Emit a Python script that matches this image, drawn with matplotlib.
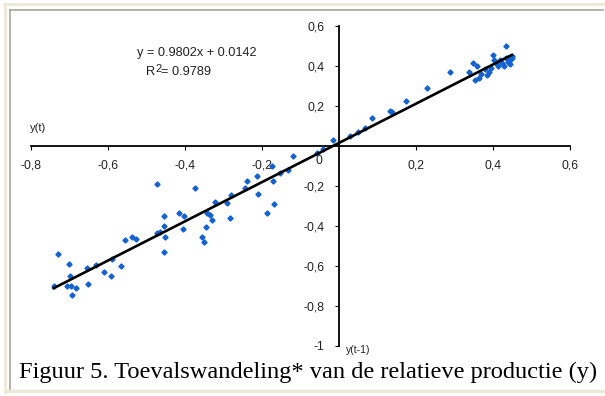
import matplotlib
matplotlib.use("Agg")
import matplotlib.pyplot as plt
from matplotlib.lines import Line2D

# data: y(t-1) on x, y(t) on y
x_vals = [-0.739, -0.728, -0.699, -0.697, -0.704, -0.696, -0.682, -0.691, -0.650, -0.654,
          -0.630, -0.609, -0.592, -0.589, -0.565, -0.555, -0.537, -0.526, -0.472, -0.472,
          -0.464, -0.453, -0.453, -0.451, -0.453, -0.413, -0.401, -0.405, -0.373, -0.355,
          -0.349, -0.345, -0.342, -0.334, -0.329, -0.321, -0.290, -0.282, -0.279, -0.243,
          -0.237, -0.211, -0.208, -0.186, -0.171, -0.168, -0.152, -0.131, -0.117, -0.173,
          -0.057, -0.039, -0.013, 0.030, 0.050, 0.069, 0.087, 0.135, 0.138, 0.175,
          0.230, 0.290, 0.340, 0.350, 0.360, 0.365, 0.370, 0.380, 0.385, 0.395,
          0.400, 0.405, 0.410, 0.415, 0.425, 0.435, 0.435, 0.445, 0.450, 0.445,
          0.430, 0.420, 0.390, 0.355, 0.440, 0.450]
y_vals = [-0.700, -0.540, -0.590, -0.650, -0.700, -0.700, -0.710, -0.745, -0.690, -0.610,
          -0.595, -0.630, -0.650, -0.565, -0.600, -0.470, -0.455, -0.465, -0.190, -0.435,
          -0.430, -0.350, -0.400, -0.455, -0.530, -0.335, -0.350, -0.415, -0.210, -0.455,
          -0.480, -0.405, -0.335, -0.345, -0.370, -0.280, -0.285, -0.360, -0.245, -0.210,
          -0.175, -0.150, -0.240, -0.335, -0.175, -0.290, -0.135, -0.120, -0.050, -0.100,
          -0.033, -0.016, 0.030, 0.050, 0.070, 0.090, 0.140, 0.175, 0.170, 0.225,
          0.290, 0.370, 0.370, 0.415, 0.400, 0.340, 0.360, 0.385, 0.355, 0.390,
          0.455, 0.430, 0.415, 0.400, 0.415, 0.440, 0.500, 0.430, 0.450, 0.410,
          0.400, 0.430, 0.370, 0.330, 0.420, 0.440]

slope = 0.9802
intercept = 0.0142
r2 = 0.9789
fit_x = [-0.74, 0.45]

x_ticks = [-0.8, -0.6, -0.4, -0.2, 0.2, 0.4, 0.6]
x_labels = ["-0,8", "-0,6", "-0,4", "-0,2", "0,2", "0,4", "0,6"]
y_ticks = [-1, -0.8, -0.6, -0.4, -0.2, 0.2, 0.4, 0.6]
y_labels = ["-1", "-0,8", "-0,6", "-0,4", "-0,2", "0,2", "0,4", "0,6"]

caption = "Figuur 5. Toevalswandeling* van de relatieve productie (y)"

W, H = 605, 396
fig = plt.figure(figsize=(W / 100, H / 100), dpi=100)
fig.patch.set_facecolor("white")

ax = fig.add_axes([30.5 / W, 50 / H, 539 / W, 320 / H])
ax.set_xlim(-0.8, 0.6)
ax.set_ylim(-1, 0.6)
ax.patch.set_alpha(0)
for s in ["top", "right"]:
    ax.spines[s].set_visible(False)
ax.spines["left"].set_position(("data", 0))
ax.spines["bottom"].set_position(("data", 0))
ax.spines["left"].set_linewidth(1.3)
ax.spines["bottom"].set_linewidth(1.3)

ax.set_xticks(x_ticks)
ax.set_xticklabels(x_labels)
ax.set_yticks(y_ticks)
ax.set_yticklabels(y_labels)
ax.tick_params(axis="x", length=3, width=0.8, pad=7, labelsize=8.8)
ax.tick_params(axis="y", length=3, width=0.8, pad=7, labelsize=8.8)
for lbl in ax.get_xticklabels() + ax.get_yticklabels():
    lbl.set_fontfamily("Liberation Sans")
    lbl.set_color("#222222")

ax.text(-0.05, -0.075, "0", fontsize=8.8, family="Liberation Sans", color="#222222",
        ha="center", va="center")

ax.plot(x_vals, y_vals, linestyle="none", marker="D", markersize=2.6,
        color="#1462d2", zorder=3)
fit_y = [slope * v + intercept for v in fit_x]
ax.plot(fit_x, fit_y, color="black", linewidth=1.9, zorder=4)

ax.text(-0.368, 0.465, "y = %.4fx + %.4f" % (slope, intercept), fontsize=9.2,
        family="Liberation Sans", ha="center", va="center", color="#222222")
ax.text(-0.50, 0.37, "R", fontsize=9.2,
        family="Liberation Sans", ha="left", va="center", color="#222222")
ax.text(-0.4765, 0.385, "2", fontsize=8,
        family="Liberation Sans", ha="left", va="center", color="#222222")
ax.text(-0.461, 0.37, "= %.4f" % r2, fontsize=9.2,
        family="Liberation Sans", ha="left", va="center", color="#222222")

fig.text(30 / W, 1 - 128 / H, "y(t)", fontsize=8, family="Liberation Sans",
         ha="left", va="center", color="#222222")
fig.text(346 / W, 1 - 350 / H, "y(t-1)", fontsize=7.5, family="Liberation Sans",
         ha="left", va="center", color="#222222")

fig.text(308 / W, 1 - 372 / H, caption, fontsize=17.6, family="Liberation Serif",
         ha="center", va="center", color="black")

# frame lines round the chart
fig.add_artist(Line2D([5 / W, 5 / W], [1 - 4 / H, 1 - 392 / H], color="#ece9d8", lw=2))
fig.add_artist(Line2D([5 / W, 603 / W], [1 - 4 / H, 1 - 4 / H], color="#ece9d8", lw=2))
fig.add_artist(Line2D([5 / W, 603 / W], [1 - 391 / H, 1 - 391 / H], color="#ece9d8", lw=2.5))
fig.add_artist(Line2D([10 / W, 10 / W], [1 - 9.5 / H, 1 - 389 / H], color="#a8a597", lw=1.2))
fig.add_artist(Line2D([10 / W, 603 / W], [1 - 9.5 / H, 1 - 9.5 / H], color="#a8a597", lw=1.2))

fig.savefig("out.png", dpi=100)
